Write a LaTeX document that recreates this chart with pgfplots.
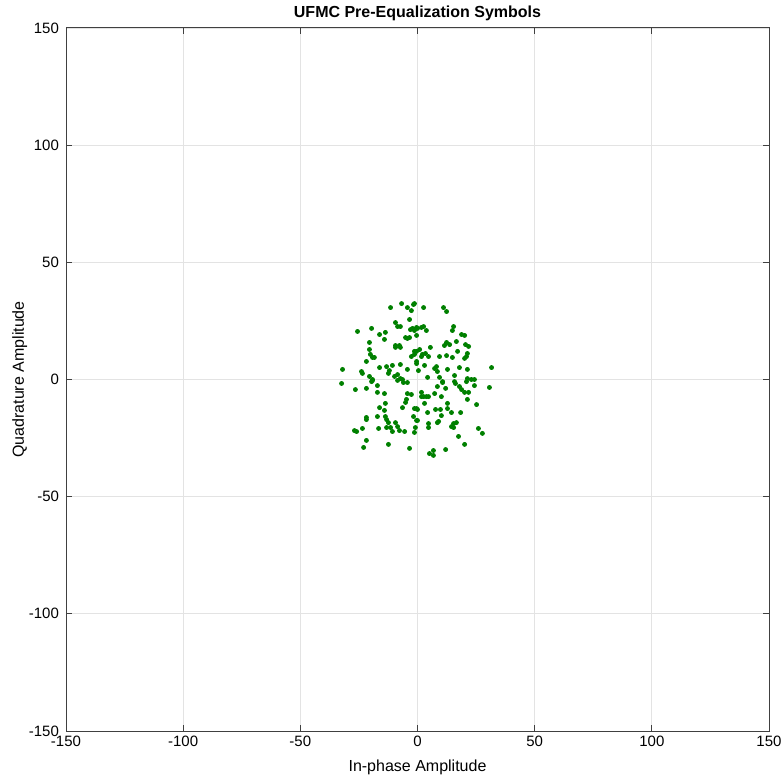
\documentclass[border=0pt]{standalone}
\usepackage{pgfplots}
\pgfplotsset{compat=1.18}
\usepackage{fontspec}
\setmainfont{Liberation Sans}
\definecolor{mgreen}{rgb}{0,0.5,0}
\definecolor{axgray}{HTML}{404040}
\begin{document}
\begin{tikzpicture}
\path[use as bounding box] (-33pt,-22.5pt) rectangle (357.5pt,365.5pt);
\begin{axis}[
  at={(0,0)}, anchor=south west,
  scale only axis, width=351.5pt, height=351.5pt,
  xmin=-150, xmax=150, ymin=-150, ymax=150,
  xtick={-150,-100,...,150}, ytick={-150,-100,...,150},
  grid=major,
  major grid style={gray!22, line width=0.4pt},
  axis line style={axgray, line width=0.5pt},
  tick style={axgray, line width=0.5pt},
  tick align=inside,
  major tick length=3pt,
  /pgf/number format/assume math mode=true,
  tick label style={font=\fontsize{7.5}{9}\selectfont, text=black},
  xticklabel style={yshift=1pt},
  label style={font=\fontsize{8}{10}\selectfont},
  xlabel={In-phase Amplitude},
  ylabel={Quadrature Amplitude},
  xlabel style={yshift=0.5pt},
  ylabel style={yshift=-6pt},
  title={\textbf{UFMC Pre-Equalization Symbols}},
  title style={font=\fontsize{8}{10}\selectfont, yshift=-6pt},
]
\addplot[only marks, mark=*, mark size=1pt, mgreen, mark options={draw=mgreen, fill=mgreen}] coordinates {
(-11.5,30.7) (-6.8,32.4) (-4.3,30.7) (-2.6,29.4) (-1.7,32.0) (-3.4,25.6) (-9.4,24.3) (-8.5,22.6) (-7.3,22.6)
(-25.6,20.5) (-19.6,21.8) (-16.2,19.2) (-13.7,20.1) (-14.1,17.1) (-3.0,21.3) (-2.1,21.8) (-0.4,22.2)
(-5.1,17.9) (-4.3,17.5) (-3.4,17.9) (-20.5,15.8) (-9.4,14.5) (-7.7,14.5) (-9.4,13.7) (-7.3,13.7)
(-20.5,12.8) (-20.1,10.7) (-19.2,9.4) (-18.4,9.4) (-21.8,7.7) (-16.2,5.1) (-13.2,5.5) (-10.7,6.0) (-7.3,6.4)
(-12.0,3.8) (-12.4,2.6) (-4.3,4.3) (-2.6,9.8) (-1.3,10.7) (-0.4,12.0) (-32.0,4.3) (-23.9,3.4) (-23.5,2.6)
(-20.5,1.3) (-19.2,0) (-9.8,1.3) (-8.5,2.1) (-7.3,0.4) (-6.4,0) (-32.4,-1.7) (-19.6,-0.9)
(-1.3,32.4) (2.6,30.7) (11.1,30.7) (12.4,29.0) (0,21.8) (1.7,22.2) (2.6,22.6) (3.8,20.9) (-1.3,20.9)
(-0.4,18.8) (15.4,22.6) (14.9,20.9) (18.8,19.2) (20.1,18.8) (16.6,16.2) (12.4,15.8) (11.5,14.5)
(13.7,14.9) (20.5,14.9) (21.8,14.1) (5.5,13.7) (0.9,12.8) (-1.3,12.0) (17.1,12.0) (2.1,10.7) (3.4,11.1)
(1.7,9.8) (4.7,9.8) (9.4,9.8) (12.4,10.2) (20.9,9.8) (21.3,11.1) (20.1,9.0) (14.9,9.4) (-0.4,7.7)
(-0.4,6.8) (3.0,6.0) (8.1,5.5) (7.3,4.7) (8.5,3.4) (12.8,4.3) (17.9,5.1) (21.3,4.3) (31.6,5.1) (0.4,3.8)
(4.3,0.9) (9.4,0.9) (10.7,-0.9) (15.8,1.7) (21.3,0.4) (23.0,0) (24.3,0) (15.8,-0.9) (20.9,-0.9)
(-26.5,-4.3) (-21.8,-3.8) (-19.2,-0.4) (-17.1,-2.6) (-17.1,-5.5) (-14.1,-6.0) (-8.5,-0.4) (-6.0,-1.3)
(-4.3,-1.3) (-4.3,-6.0) (-2.6,-6.4) (-4.7,-8.5) (-5.1,-9.8) (-13.7,-10.2) (-16.2,-12.0) (-14.1,-13.2)
(-6.4,-12.0) (-0.4,-12.4) (-17.1,-15.8) (-21.8,-16.2) (-21.8,-17.1) (-13.7,-15.8) (-13.2,-17.1)
(-12.4,-18.4) (-1.7,-15.8) (-0.4,-17.5) (-9.4,-18.4) (-8.5,-20.1) (-13.2,-20.5) (-11.5,-20.5)
(-23.5,-20.9) (-16.6,-20.9) (-26.9,-21.8) (-26.0,-22.2) (-10.7,-22.2) (-7.7,-21.8) (-5.5,-22.2)
(-0.9,-20.5) (-1.3,-22.6) (-21.8,-26.0) (-12.4,-27.7) (-23.0,-29.0) (-3.4,-29.4)
(8.5,-3.0) (10.7,-1.3) (12.0,-3.8) (16.2,-1.7) (17.9,-3.0) (18.8,-4.3) (20.1,-5.5) (24.3,-2.6)
(30.7,-3.4) (1.7,-5.5) (1.7,-7.3) (2.6,-7.3) (3.8,-7.3) (4.7,-7.3) (7.3,-6.0) (10.2,-7.3) (21.8,-5.5)
(21.3,-8.5) (25.2,-10.7) (3.0,-10.2) (12.8,-10.2) (-1.3,-12.4) (0,-12.8) (7.7,-12.8) (9.8,-12.8)
(12.8,-12.4) (14.5,-14.1) (4.3,-14.1) (10.2,-15.4) (18.4,-14.1) (0,-17.5) (8.5,-18.4) (9.0,-17.9)
(4.7,-18.8) (4.7,-20.5) (14.5,-20.1) (15.4,-18.8) (16.6,-18.4) (15.4,-20.5) (26.0,-20.9) (27.7,-23.0)
(17.5,-24.3) (20.1,-27.7) (12.0,-29.9) (6.8,-30.3) (5.1,-31.6) (6.8,-32.4)
};
\end{axis}
\end{tikzpicture}
\end{document}
